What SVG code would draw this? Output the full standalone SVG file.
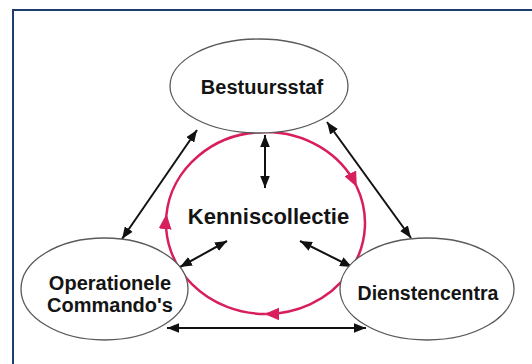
<svg xmlns="http://www.w3.org/2000/svg" width="532" height="364" viewBox="0 0 532 364">
<style>
.node ellipse{fill:#ffffff;stroke:#5a5a5a;stroke-width:1.3}
.lbl{font-family:"Liberation Sans",Arial,sans-serif;font-weight:bold;fill:#141414;text-anchor:middle}
.conn{stroke:#111111;stroke-width:2;fill:none;marker-start:url(#bh);marker-end:url(#bh)}
.cyc{stroke:#d81e5b;stroke-width:2.5;fill:none}
</style>
<defs>
<marker id="bh" markerUnits="userSpaceOnUse" markerWidth="12" markerHeight="10" viewBox="0 0 10 8" refX="10" refY="4" orient="auto-start-reverse">
<path d="M0,0 L10,4 L0,8 z" fill="#111111"/>
</marker>
<marker id="rh" markerUnits="userSpaceOnUse" markerWidth="15" markerHeight="13" viewBox="0 0 15 13" refX="14" refY="6.5" orient="auto">
<path d="M0,0 L15,6.5 L0,13 z" fill="#d81e5b"/>
</marker>
</defs>
<rect x="0" y="0" width="532" height="364" fill="#ffffff"/>
<rect x="13" y="10" width="540" height="370" fill="none" stroke="#1c3d6e" stroke-width="2"/>

<g id="connectors">
<g id="cycle">
<path class="cyc" d="M265.5,132 A99.5,91 0 0 1 356.4,186" marker-end="url(#rh)"/>
<path class="cyc" d="M356.4,186 A99.5,91 0 0 1 265.5,314" marker-end="url(#rh)"/>
<path class="cyc" d="M265.5,314 A99.5,91 0 0 1 166.4,215.1" marker-end="url(#rh)"/>
<path class="cyc" d="M166.4,215.1 A99.5,91 0 0 1 265.5,132"/>
</g>
<line class="conn" x1="122" y1="239" x2="197" y2="130"/>
<line class="conn" x1="327" y1="122" x2="411" y2="238"/>
<line class="conn" x1="265" y1="135" x2="265" y2="188"/>
<line class="conn" x1="227" y1="241" x2="180" y2="267"/>
<line class="conn" x1="300" y1="241" x2="352" y2="267"/>
<line class="conn" x1="167" y1="328" x2="366" y2="328"/>
</g>

<g id="bestuursstaf" class="node">
<ellipse cx="259" cy="86" rx="89" ry="47"/>
<text class="lbl" x="262" y="94" font-size="20">Bestuursstaf</text>
</g>
<g id="operationele" class="node">
<ellipse cx="104.5" cy="289" rx="83.5" ry="51"/>
<text class="lbl" x="110" y="290" font-size="20">Operationele</text>
<text class="lbl" x="110" y="312" font-size="20">Commando's</text>
</g>
<g id="dienstencentra" class="node">
<ellipse cx="427" cy="289" rx="87" ry="51"/>
<text class="lbl" x="428" y="300" font-size="19.5">Dienstencentra</text>
</g>
<g id="kenniscollectie">
<text class="lbl" x="268.5" y="224" font-size="22">Kenniscollectie</text>
</g>
</svg>
